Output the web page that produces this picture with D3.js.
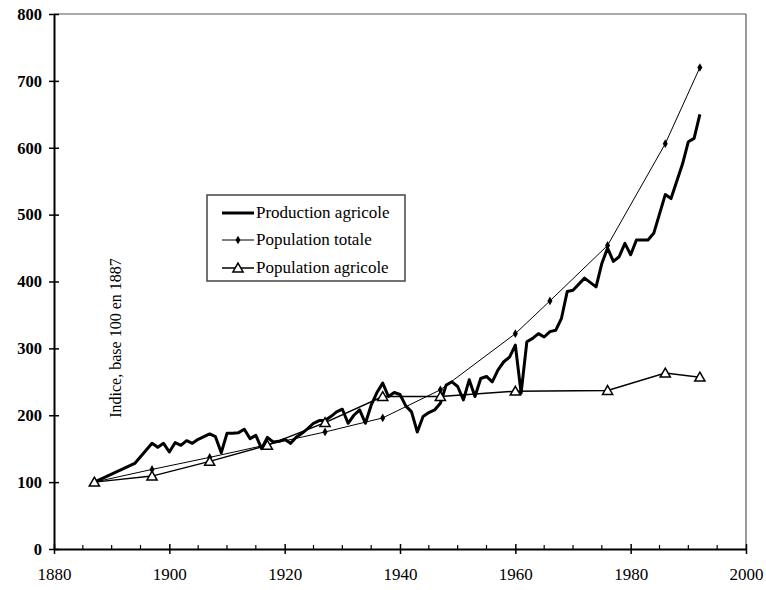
<!DOCTYPE html>
<html><head><meta charset="utf-8">
<script src="https://cdn.jsdelivr.net/npm/d3@7"></script>
<style>body{margin:0;background:#fff}svg{display:block}text{font-family:"Liberation Serif","DejaVu Serif",serif}</style>
</head><body><svg id="c" width="766" height="590"></svg>
<script>
const prodYears = [1887,1894,1897,1898,1899,1900,1901,1902,1903,1904,1905,1907,1908,1909,1910,1911,1912,1913,1914,1915,1916,1917,1918,1919,1920,1921,1922,1923,1924,1925,1926,1927,1928,1929,1930,1931,1932,1933,1934,1935,1936,1937,1938,1939,1940,1941,1942,1943,1944,1945,1946,1947,1948,1949,1950,1951,1952,1953,1954,1955,1956,1957,1958,1959,1960,1961,1962,1963,1964,1965,1966,1967,1968,1969,1970,1972,1974,1975,1976,1977,1978,1979,1980,1981,1983,1984,1986,1987,1989,1990,1991,1992];
const prodValues = [100,128,158,152,158,145,159,155,162,158,164,172,168,144,173,173,174,179,165,170,150,167,160,161,164,158,167,173,180,188,192,192,198,205,209,188,200,208,188,215,234,248,228,234,231,214,205,175,198,204,208,218,245,250,243,223,253,228,255,258,250,268,280,287,305,233,310,315,322,317,325,327,345,385,387,405,392,427,450,430,437,457,440,462,462,472,530,524,576,609,614,650];
const totYears = [1887,1897,1907,1917,1927,1937,1947,1960,1966,1976,1986,1992];
const totValues = [100,119,137,156,175,196,238,322,371,454,606,720];
const agriYears = [1887,1897,1907,1917,1927,1937,1947,1960,1976,1986,1992];
const agriValues = [100,109,131,155,189,228,228,236,237,263,257];
const xTicks = [1880,1900,1920,1940,1960,1980,2000];
const yTicks = [0,100,200,300,400,500,600,700,800];
const legendLabels = ["Production agricole","Population totale","Population agricole"];
const yTitle = "Indice, base 100 en 1887";

const svg = d3.select("#c");
const L=54,R=746,T=14,B=549;
const x = d3.scaleLinear().domain([1880,2000]).range([L,R]);
const y = d3.scaleLinear().domain([0,800]).range([B,T]);

svg.append("line").attr("x1",L).attr("x2",R).attr("y1",T).attr("y2",T).attr("stroke","#555").attr("stroke-width",1.2);
svg.append("line").attr("x1",R).attr("x2",R).attr("y1",T).attr("y2",B).attr("stroke","#555").attr("stroke-width",1.2);

const gy = svg.append("g").attr("transform",`translate(${L},0)`)
  .call(d3.axisLeft(y).tickValues(yTicks).tickSize(5).tickSizeOuter(0).tickPadding(8));
gy.attr("font-family",null);
gy.select(".domain").attr("stroke","#000").attr("stroke-width",2);
gy.selectAll(".tick line").attr("stroke","#000").attr("stroke-width",1.5).attr("x2",-5).attr("x1",5);
gy.selectAll(".tick text").attr("font-size",16.5).attr("font-weight","bold").attr("fill","#000").attr("x",-12);

const gx = svg.append("g").attr("transform",`translate(0,${B})`)
  .call(d3.axisBottom(x).tickValues(xTicks).tickFormat(d3.format("d")).tickSize(5).tickSizeOuter(0).tickPadding(14));
gx.attr("font-family",null);
gx.select(".domain").attr("stroke","#000").attr("stroke-width",2);
gx.selectAll(".tick line").attr("stroke","#000").attr("stroke-width",1.5).attr("y1",-5).attr("y2",5);
gx.selectAll(".tick text").attr("font-size",17).attr("fill","#000");
const minor = d3.range(1885,2000,5).filter(d=>d%20!==0);
svg.append("g").selectAll("line").data(minor).join("line")
  .attr("x1",d=>x(d)).attr("x2",d=>x(d)).attr("y1",B-4).attr("y2",B)
  .attr("stroke","#000").attr("stroke-width",1.2);

svg.append("text").attr("transform",`translate(121,338) rotate(-90)`)
  .attr("text-anchor","middle").attr("font-size",16).text(yTitle);

const line = d3.line().x(d=>x(d[0])).y(d=>y(d[1]));
const prod = prodYears.map((d,i)=>[d,prodValues[i]]);
const tot = totYears.map((d,i)=>[d,totValues[i]]);
const agri = agriYears.map((d,i)=>[d,agriValues[i]]);

svg.append("path").datum(agri).attr("d",line).attr("fill","none").attr("stroke","#000").attr("stroke-width",1.5);
svg.append("path").datum(tot).attr("d",line).attr("fill","none").attr("stroke","#000").attr("stroke-width",1);
svg.append("path").datum(prod).attr("d",line).attr("fill","none").attr("stroke","#000").attr("stroke-width",3).attr("stroke-linejoin","round");

const diamond = d3.symbol().type(d3.symbolDiamond).size(22);
const tri = d3.symbol().type(d3.symbolTriangle).size(45);
svg.append("g").selectAll("path").data(tot).join("path")
  .attr("transform",d=>`translate(${x(d[0])},${y(d[1])})`).attr("d",diamond).attr("fill","#000");
svg.append("g").selectAll("path").data(agri).join("path")
  .attr("transform",d=>`translate(${x(d[0])},${y(d[1])+1})`).attr("d",tri)
  .attr("fill","#fff").attr("stroke","#000").attr("stroke-width",1.5);

const lg = svg.append("g");
lg.append("rect").attr("x",207).attr("y",195).attr("width",198).attr("height",86)
  .attr("fill","#fff").attr("stroke","#444").attr("stroke-width",1.5);
const rows=[213,240,268];
rows.forEach((ry,i)=>{
  lg.append("line").attr("x1",222).attr("x2",254).attr("y1",ry).attr("y2",ry)
    .attr("stroke","#000").attr("stroke-width",i===0?3:(i===1?1:1.5));
  if(i===1) lg.append("path").attr("transform",`translate(238,${ry})`).attr("d",diamond).attr("fill","#000");
  if(i===2) lg.append("path").attr("transform",`translate(238,${ry+1})`).attr("d",tri).attr("fill","#fff").attr("stroke","#000").attr("stroke-width",1.5);
  lg.append("text").attr("x",256).attr("y",ry+5).attr("font-size",17).text(legendLabels[i]);
});
</script></body></html>
